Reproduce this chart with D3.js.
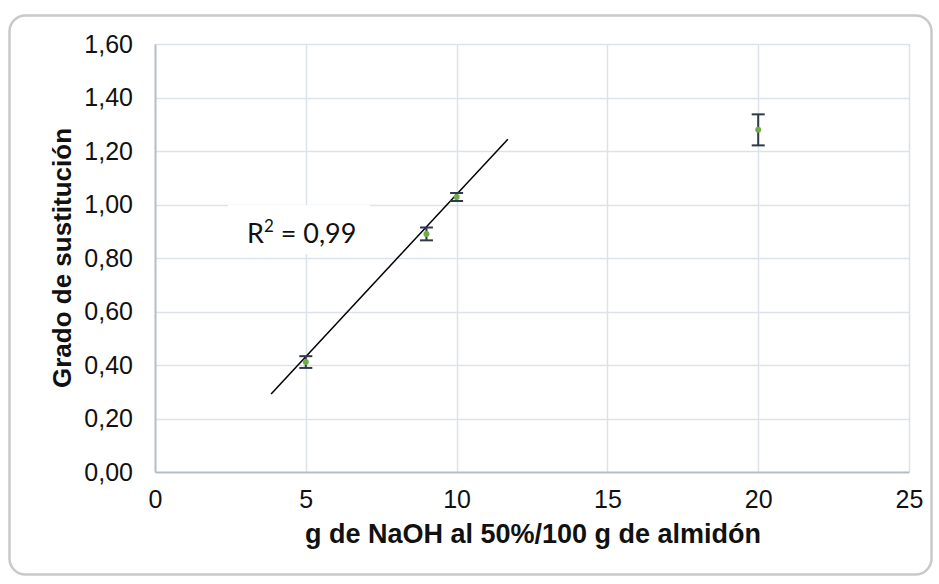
<!DOCTYPE html>
<html>
<head>
<meta charset="utf-8">
<script src="https://cdn.jsdelivr.net/npm/d3@7"></script>
<style>
  html, body { margin: 0; padding: 0; background: #fff; }
  svg { display: block; }
</style>
</head>
<body>
<svg id="chart" width="939" height="584"></svg>
<script>
// NaOH dose (g of 50% NaOH per 100 g starch) vs degree of substitution
const naohDose   = [5, 9, 10, 20];
const subDegree  = [0.411, 0.890, 1.028, 1.279];
const subError   = [0.022, 0.024, 0.015, 0.058];
// linear trend: [intercept, slope] and the dose range it is drawn over
const trendCoef  = [-0.175, 0.1213];
const trendRange = [3.85, 11.7];
const xTicks     = [0, 5, 10, 15, 20, 25];
const yTicks     = [0, 0.2, 0.4, 0.6, 0.8, 1.0, 1.2, 1.4, 1.6];
const r2Label    = "0,99";

const svg = d3.select("#chart");
const W = 939, H = 584;
const m = { left: 155, right: 30, top: 44, bottom: 112 };

// outer rounded frame
svg.append("rect")
  .attr("x", 9.5).attr("y", 15.5)
  .attr("width", 922).attr("height", 559)
  .attr("rx", 16).attr("ry", 16)
  .attr("fill", "#fff")
  .attr("stroke", "#c9c9c9").attr("stroke-width", 2.5);

const x = d3.scaleLinear().domain([0, 25]).range([m.left, W - m.right]);
const y = d3.scaleLinear().domain([0, 1.6]).range([H - m.bottom, m.top]);

const fmt = d => d.toFixed(2).replace(".", ",");
const font = "'Liberation Sans', Arial, sans-serif";

// gridlines
const grid = svg.append("g");
grid.selectAll(".hg").data(yTicks.filter(d => d > 0)).join("line")
  .attr("x1", x(0)).attr("x2", x(25))
  .attr("y1", d => Math.round(y(d)) + 0.5).attr("y2", d => Math.round(y(d)) + 0.5)
  .attr("stroke", "#dde1e8").attr("stroke-width", 1.5);
grid.selectAll(".vg").data(xTicks.filter(d => d > 0)).join("line")
  .attr("y1", y(0)).attr("y2", y(1.6))
  .attr("x1", d => Math.round(x(d)) + 0.5).attr("x2", d => Math.round(x(d)) + 0.5)
  .attr("stroke", "#dde1e8").attr("stroke-width", 1.5);

// axes
const xAxis = svg.append("g")
  .attr("transform", `translate(0,${y(0)})`)
  .call(d3.axisBottom(x).tickValues(xTicks).tickSize(0).tickPadding(18).tickFormat(d3.format("d")));
const yAxis = svg.append("g")
  .attr("transform", `translate(${x(0)},0)`)
  .call(d3.axisLeft(y).tickValues(yTicks).tickSize(0).tickPadding(22).tickFormat(fmt));
[xAxis, yAxis].forEach(a => {
  a.select(".domain").attr("stroke", "#b3bdcb").attr("stroke-width", 2);
  a.selectAll("text").attr("font-family", font).attr("font-size", 25).attr("fill", "#111");
});

// axis titles
svg.append("text")
  .attr("x", (x(0) + x(25)) / 2 + 1).attr("y", 543)
  .attr("text-anchor", "middle")
  .attr("font-family", font).attr("font-weight", "bold").attr("font-size", 27)
  .attr("fill", "#111")
  .text("g de NaOH al 50%/100 g de almidón");
svg.append("text")
  .attr("transform", `translate(71,${(y(0) + y(1.6)) / 2}) rotate(-90)`)
  .attr("text-anchor", "middle")
  .attr("font-family", font).attr("font-weight", "bold").attr("font-size", 26)
  .attr("fill", "#111")
  .text("Grado de sustitución");

// trend line
const trendY = d => trendCoef[0] + trendCoef[1] * d;
svg.append("line")
  .attr("x1", x(trendRange[0])).attr("y1", y(trendY(trendRange[0])))
  .attr("x2", x(trendRange[1])).attr("y2", y(trendY(trendRange[1])))
  .attr("stroke", "#000").attr("stroke-width", 1.5);

// R² label on a white box
svg.append("rect")
  .attr("x", 228).attr("y", 205).attr("width", 142).attr("height", 49)
  .attr("fill", "#fff");
const r2 = svg.append("text")
  .attr("x", 247).attr("y", 243)
  .attr("font-family", "Lato, 'Open Sans', sans-serif").attr("font-size", 27)
  .attr("fill", "#111");
r2.append("tspan").text("R");
r2.append("tspan").attr("dy", -11).attr("font-size", 17).text("2");
r2.append("tspan").attr("dy", 11).text(" = " + r2Label);

// error bars and points
const pts = svg.append("g");
naohDose.forEach((d, i) => {
  const cx = x(d);
  const top = y(subDegree[i] + subError[i]), bot = y(subDegree[i] - subError[i]);
  pts.append("line").attr("x1", cx).attr("x2", cx).attr("y1", top).attr("y2", bot)
    .attr("stroke", "#2e3a4c").attr("stroke-width", 2);
  [top, bot].forEach(yy => pts.append("line")
    .attr("x1", cx - 6.5).attr("x2", cx + 6.5).attr("y1", yy).attr("y2", yy)
    .attr("stroke", "#2e3a4c").attr("stroke-width", 2));
  pts.append("circle").attr("cx", cx).attr("cy", y(subDegree[i])).attr("r", 3)
    .attr("fill", "#70ad47");
});
</script>
</body>
</html>
